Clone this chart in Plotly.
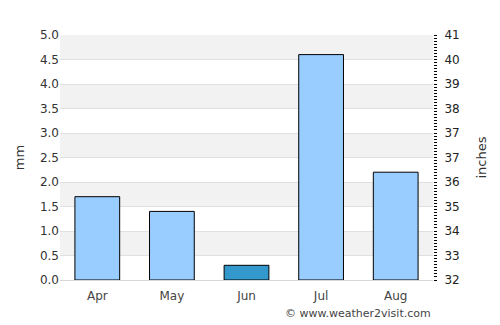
import plotly.graph_objects as go

months = ["Apr", "May", "Jun", "Jul", "Aug"]
rain_mm = [1.7, 1.4, 0.3, 4.6, 2.2]
bar_colors = ["#99ccff", "#99ccff", "#3399cc", "#99ccff", "#99ccff"]
mm_ticks = [0.0, 0.5, 1.0, 1.5, 2.0, 2.5, 3.0, 3.5, 4.0, 4.5, 5.0]
inch_labels = ["32", "33", "34", "35", "36", "37", "37", "38", "39", "40", "41"]

font = "DejaVu Sans"
fig = go.Figure()
fig.add_trace(go.Bar(
    x=months, y=rain_mm, width=0.6,
    marker=dict(color=bar_colors, line=dict(color="#000000", width=1)),
    hoverinfo="skip", showlegend=False,
))
fig.add_trace(go.Scatter(x=months, y=rain_mm, yaxis="y2", mode="markers",
                         marker=dict(opacity=0), showlegend=False, hoverinfo="skip"))

shapes = []
for lo in [0.5, 1.5, 2.5, 3.5, 4.5]:
    shapes.append(dict(type="rect", xref="paper", yref="y", x0=0, x1=1, y0=lo, y1=lo + 0.5,
                       fillcolor="#f2f2f2", line=dict(width=0), layer="below"))

fig.update_layout(
    width=500, height=325,
    margin=dict(l=60, r=67, t=35, b=45),
    paper_bgcolor="white", plot_bgcolor="white",
    font=dict(family=font, size=12, color="#444444"),
    shapes=shapes,
    bargap=0.4,
    xaxis=dict(showgrid=False, showline=True, linecolor="#d8d8d8", linewidth=1,
               ticks="outside", ticklen=5, tickcolor="rgba(0,0,0,0)",
               tickfont=dict(size=12, color="#444444")),
    yaxis=dict(range=[0, 5], tickvals=mm_ticks, ticktext=[f"{v:.1f}" for v in mm_ticks],
               showgrid=True, gridcolor="#e0e0e0", gridwidth=1, zeroline=False,
               ticks="", tickfont=dict(size=12, color="#333333"),
               title=dict(text="mm", font=dict(size=13, color="#333333"), standoff=12)),
    yaxis2=dict(range=[0, 5], overlaying="y", side="right", tickvals=mm_ticks,
                ticktext=inch_labels, showgrid=False, zeroline=False,
                ticks="outside", ticklen=8, tickcolor="rgba(0,0,0,0)",
                tickfont=dict(size=12, color="#222222"),
                minor=dict(ticks="outside", dtick=0.0625, ticklen=3, tickcolor="#000000",
                           tickwidth=1, showgrid=False),
                title=dict(text="inches", font=dict(size=13, color="#333333"), standoff=18)),
    annotations=[dict(text="© www.weather2visit.com", xref="paper", yref="paper",
                      x=1.0, y=-0.135, xanchor="right", yanchor="middle", showarrow=False,
                      font=dict(size=11, color="#444444"))],
)
fig.write_html("out.html")
